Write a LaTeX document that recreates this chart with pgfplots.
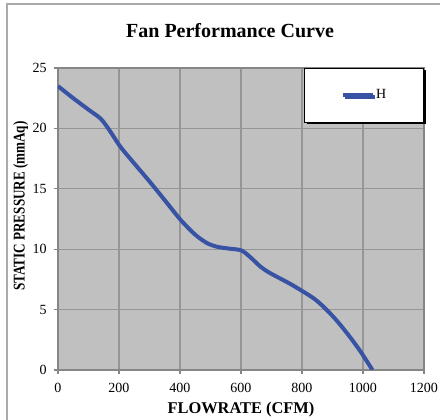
\documentclass[border=0pt]{standalone}
\usepackage{fontspec}
\setmainfont{Liberation Serif}
\usepackage{pgfplots}
\pgfplotsset{compat=1.18}
\usetikzlibrary{shadows}
\definecolor{plotbg}{RGB}{192,192,192}
\definecolor{gridgray}{RGB}{150,150,150}
\definecolor{axisgray}{RGB}{134,134,134}
\definecolor{curveblue}{RGB}{57,83,164}
\definecolor{framegray}{RGB}{170,170,170}

\begin{document}
\begin{tikzpicture}
% page = 440x420 px at 0.75pt per px, plot box at origin
\useasboundingbox (-43.5pt,-37.5pt) rectangle (286.5pt,277.5pt);
\draw[framegray,line width=0.8pt] (-38.25pt,-40pt) -- (-38.25pt,274.5pt) -- (290pt,274.5pt);
\begin{axis}[
    at={(0,0)}, anchor=south west,
    width=274.5pt, height=226.5pt,
    scale only axis,
    xmin=0, xmax=1200,
    ymin=0, ymax=25,
    xtick={0,200,...,1200},
    ytick={0,5,...,25},
    axis background/.style={fill=plotbg},
    axis line style={axisgray,line width=0.8pt},
    grid=major,
    major grid style={gridgray,line width=0.8pt},
    tick align=outside,
    tick pos=left,
    major tick length=3pt,
    major tick style={axisgray,line width=0.8pt},
    /pgf/number format/assume math mode=true,
    tick label style={font=\fontsize{10.5}{12}\selectfont},
    xticklabel style={yshift=-3.5pt},
    yticklabel style={xshift=-2pt},
    scaled x ticks=false,
    xticklabel={\pgfmathprintnumber[fixed,1000 sep={}]{\tick}},
    title={Fan Performance Curve},
    title style={at={(axis description cs:0.47,1.099)}, anchor=center,
        font=\fontsize{15}{18}\selectfont\bfseries},
    xlabel={FLOWRATE (CFM)},
    xlabel style={at={(axis description cs:0.5,-0.131)}, anchor=center,
        font=\fontsize{12.3}{14}\selectfont\bfseries},
    ylabel={\scalebox{0.8}[1]{STATIC PRESSURE (mmAq)}},
    ylabel style={at={(axis description cs:-0.102,0.543)}, anchor=center,
        font=\fontsize{12.3}{14}\selectfont\bfseries},
    legend style={at={(axis description cs:1,1)}, anchor=north east,
        draw=black, fill=white, line width=0.6pt,
        inner xsep=27pt, inner ysep=15pt,
        drop shadow={shadow xshift=1.5pt, shadow yshift=-1.5pt, fill=black, opacity=1},
        font=\fontsize{10.5}{12}\selectfont,
        nodes={inner sep=1pt}},
    legend image code/.code={
        \draw[#1, line width=3pt] (0pt,0pt) -- (22.5pt,0pt);},
]
\addplot[curveblue, line width=3pt, smooth, tension=0.5] coordinates {
    (0,23.5) (50,22.5) (100,21.55) (140,20.8) (170,19.8) (204,18.5)
    (250,17.1) (302,15.55) (355,13.9) (403,12.4) (450,11.2) (489,10.5)
    (522,10.2) (560,10.05) (601,9.9) (630,9.35) (664,8.55) (690,8.1)
    (719,7.7) (760,7.15) (800,6.55) (840,5.9) (872,5.2) (910,4.2)
    (949,3.0) (990,1.6) (1031,0)
};
\addlegendentry{H}
\end{axis}
\end{tikzpicture}
\end{document}
